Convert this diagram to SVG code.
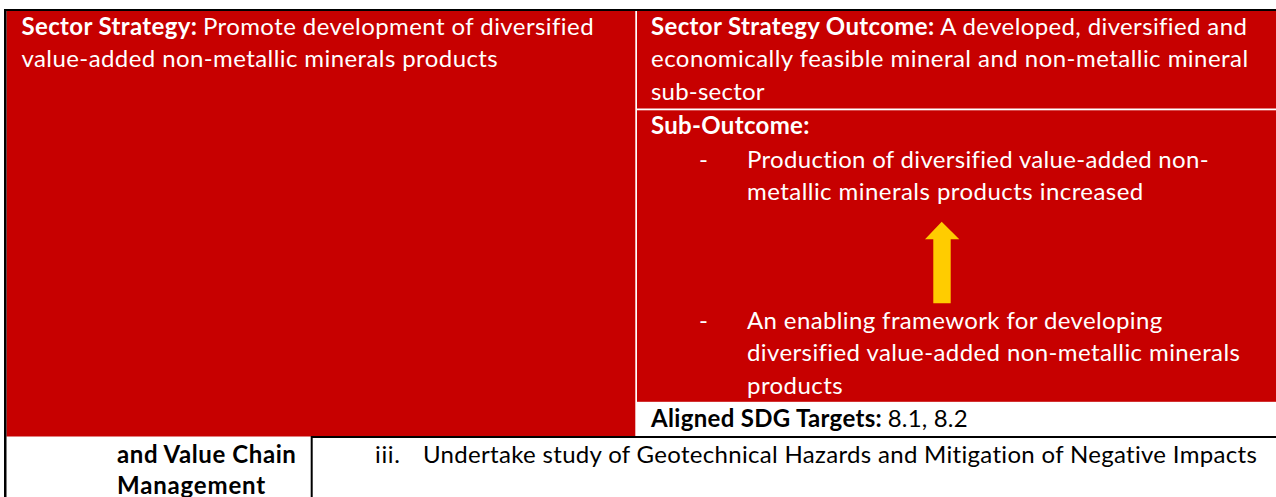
<svg xmlns="http://www.w3.org/2000/svg" width="1276" height="497" viewBox="0 0 1276 497">
  <style>
    .red { fill: #C70000; }
    .line { fill: #000000; }
    .t { font-family: Lato, "Open Sans", "Liberation Sans", sans-serif; font-size: 24px; font-variant-ligatures: none; font-feature-settings: "liga" 0, "clig" 0, "dlig" 0; }
    .w { fill: #FFFFFF; }
    .k { fill: #000000; }
    .b { font-weight: bold; }
  </style>
  <rect x="0" y="0" width="1276" height="497" fill="#FFFFFF"/>

  <g id="cell-strategy">
    <rect class="red" x="6.5" y="11" width="628.8" height="425.5"/>
    <text class="t w" y="35">
      <tspan class="b" x="21.5" textLength="175.4">Sector Strategy:</tspan>
      <tspan x="202.9" textLength="390.7">Promote development of diversified</tspan>
    </text>
    <text class="t w" x="21.5" y="67.4" textLength="476.2">value-added non-metallic minerals products</text>
  </g>

  <g id="cell-outcome">
    <rect class="red" x="637" y="11" width="639" height="97.5"/>
    <text class="t w" y="35">
      <tspan class="b" x="651" textLength="283.2">Sector Strategy Outcome:</tspan>
      <tspan x="940.2" textLength="306.7">A developed, diversified and</tspan>
    </text>
    <text class="t w" x="651" y="67.4" textLength="597.1">economically feasible mineral and non-metallic mineral</text>
    <text class="t w" x="651" y="99.8" textLength="113.5">sub-sector</text>
  </g>

  <g id="cell-suboutcome">
    <rect class="red" x="637" y="110.3" width="639" height="291.5"/>
    <text class="t w b" x="651" y="134" textLength="158.4">Sub-Outcome:</text>
    <text class="t w" x="699" y="168">-</text>
    <text class="t w" x="747" y="168" textLength="461.6">Production of diversified value-added non-</text>
    <text class="t w" x="747" y="200.4" textLength="396.3">metallic minerals products increased</text>
    <text class="t w" x="699" y="328.5">-</text>
    <text class="t w" x="747" y="328.5" textLength="415.2">An enabling framework for developing</text>
    <text class="t w" x="747" y="361" textLength="492.9">diversified value-added non-metallic minerals</text>
    <text class="t w" x="747" y="393.5" textLength="95.7">products</text>
  </g>

  <g id="cell-sdg">
    <text class="t k" y="427">
      <tspan class="b" x="651" textLength="230.7">Aligned SDG Targets:</tspan>
      <tspan x="887.7" textLength="79.9">8.1, 8.2</tspan>
    </text>
  </g>

  <g id="cell-bottom-left">
    <text class="t k b" x="117" y="463" textLength="178.9">and Value Chain</text>
    <text class="t k b" x="117" y="494" textLength="148.2">Management</text>
  </g>

  <g id="cell-bottom-right">
    <text class="t k" x="375" y="463" textLength="24.9">iii.</text>
    <text class="t k" x="423" y="463" textLength="833.8">Undertake study of Geotechnical Hazards and Mitigation of Negative Impacts</text>
  </g>

  <g id="borders">
    <rect class="line" x="4" y="9" width="1272" height="2"/>
    <rect class="line" x="4" y="9" width="2.5" height="488"/>
    <rect class="line" x="311" y="436" width="965" height="2"/>
    <rect class="line" x="310.7" y="436" width="2" height="61"/>
  </g>

  <g id="connectors">
    <polygon points="941.7,221.7 959.3,239.3 950.7,239.3 950.7,303.3 933.3,303.3 933.3,239.3 925,239.3" fill="#FFCC00"/>
  </g>
</svg>
